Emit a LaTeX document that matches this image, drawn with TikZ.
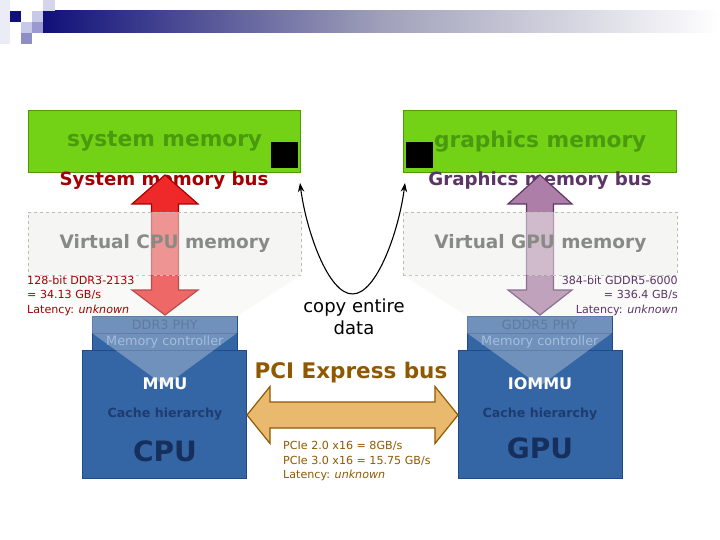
\documentclass[tikz,border=0pt]{standalone}
\usepackage{fontspec}
\setmainfont{DejaVu Sans}
\usetikzlibrary{arrows.meta}
\definecolor{grn}{HTML}{73D216}
\definecolor{grnd}{HTML}{4E9A06}
\definecolor{grnt}{HTML}{4A9A0E}
\definecolor{redf}{HTML}{EF2929}
\definecolor{redd}{HTML}{A40000}
\definecolor{plf}{HTML}{AD7FA8}
\definecolor{pld}{HTML}{5C3566}
\definecolor{blf}{HTML}{3465A4}
\definecolor{bld}{HTML}{204A87}
\definecolor{bltxt}{HTML}{1E3C70}
\definecolor{bltxtd}{HTML}{162F5C}
\definecolor{blphy}{HTML}{1C4280}
\definecolor{blmc}{HTML}{84A6D6}
\definecolor{chf}{HTML}{E9B96E}
\definecolor{chd}{HTML}{8F5902}
\definecolor{alu}{HTML}{888A85}
\definecolor{alul}{HTML}{BABDB6}
\definecolor{alull}{HTML}{EEEEEC}
\definecolor{hnavy}{HTML}{10107A}
\definecolor{hl1}{HTML}{D4D4EC}
\definecolor{hl2}{HTML}{C8C8E8}
\definecolor{hm1}{HTML}{9A9AD0}
\definecolor{hm2}{HTML}{8E8EC6}
\definecolor{hf}{HTML}{ECECF6}
\definecolor{hmid}{HTML}{A0A0BA}
\tikzset{
  membox/.style={draw=grnd, fill=grn, line width=1.4pt, anchor=north west, inner sep=0pt,
    text=grnt, font=\fontsize{21.7}{24}\selectfont\bfseries},
  blk/.style={fill=black, anchor=north west, inner sep=0pt},
  buslbl/.style={font=\fontsize{18.2}{20}\selectfont\bfseries, inner sep=0pt},
  virtbox/.style={draw=alul, dashed, line width=0.8pt, fill=alull, fill opacity=0.55, text opacity=1,
    anchor=north west, inner sep=0pt, text=alu, font=\fontsize{18.5}{21}\selectfont\bfseries},
  funnel/.style={fill=alull, fill opacity=0.32},
  chip/.style={draw=bld, fill=blf, line width=0.8pt, anchor=north west, inner sep=0pt},
  phyrow/.style={draw=bld, fill=blf, line width=0.6pt, anchor=north west, inner sep=0pt,
    font=\fontsize{12.8}{15}\selectfont},
  small/.style={font=\fontsize{11.1}{14.2}\selectfont, inner sep=0pt},
  arrowred/.style={fill=redf, draw=redd, line width=1.2pt, line join=miter},
  arrowpl/.style={fill=plf, draw=pld, line width=1.2pt, line join=miter},
  arrowch/.style={fill=chf, draw=chd, line width=1.2pt, line join=miter},
  copytip/.style={-{Stealth[length=9pt,width=6.5pt]}},
}
\begin{document}
\begin{tikzpicture}[x=1pt,y=-1pt]
\useasboundingbox (0,0) rectangle (720,540);
\fill[white] (0,0) rectangle (720,540);
% header
\fill[hf] (0,0) rectangle (10,44);
\shade[left color=hnavy, right color=white, middle color=hmid] (43,11) rectangle (720,33);
\fill[hl1] (43,0) rectangle (55,11);
\fill[hnavy] (10,11) rectangle (21,22);
\fill[hl2] (32,11) rectangle (43,22);
\fill[hl2] (21,22) rectangle (32,33);
\fill[hm1] (32,22) rectangle (43,33);
\fill[hm2] (21,33) rectangle (32,44);

% memory boxes
\node[membox, minimum width=272pt, minimum height=62pt] (sysmem) at (28,110) {system memory};
\node[membox, minimum width=273pt, minimum height=62pt] (gfxmem) at (403,110) {graphics memory};
\node[blk, minimum width=27pt, minimum height=26pt] (blk1) at (271,142) {};
\node[blk, minimum width=27pt, minimum height=26pt] (blk2) at (406,142) {};

% chips
\node[chip, minimum width=164pt, minimum height=128pt] (cpu) at (82,350) {};
\node[chip, minimum width=164pt, minimum height=128pt] (gpu) at (458,350) {};
\node[phyrow, minimum width=145pt, minimum height=17pt, text=blphy] (phy1) at (92,316) {DDR3 PHY};
\node[phyrow, minimum width=145pt, minimum height=17pt, text=blmc] (mc1) at (92,333) {Memory controller};
\node[phyrow, minimum width=145pt, minimum height=17pt, text=blphy] (phy2) at (467,316) {GDDR5 PHY};
\node[phyrow, minimum width=145pt, minimum height=17pt, text=blmc] (mc2) at (467,333) {Memory controller};

\node[text=white, font=\fontsize{16}{18}\selectfont\bfseries] (mmu) at (165,384) {MMU};
\node[text=bltxt, font=\fontsize{12.6}{15}\selectfont\bfseries] (ch1) at (165,414) {Cache hierarchy};
\node[text=bltxtd, font=\fontsize{28}{32}\selectfont\bfseries] (cpul) at (165,451) {CPU};
\node[text=white, font=\fontsize{16}{18}\selectfont\bfseries] (iommu) at (540,384) {IOMMU};
\node[text=bltxt, font=\fontsize{12.6}{15}\selectfont\bfseries] (ch2) at (540,414) {Cache hierarchy};
\node[text=bltxtd, font=\fontsize{28}{32}\selectfont\bfseries] (gpul) at (540,448) {GPU};

% bus labels (under the arrows)
\node[buslbl, text=redd] (sbus) at (164,181) {System memory bus};
\node[buslbl, text=pld] (gbus) at (540,181) {Graphics memory bus};

% vertical bus arrows
\path[arrowred] (165,175) -- (198,204) -- (178.5,204) -- (178.5,290) -- (198,290) -- (165,315)
  -- (132,290) -- (151.5,290) -- (151.5,204) -- (132,204) -- cycle;
\path[arrowpl] (540,175) -- (572,204) -- (553.5,204) -- (553.5,290) -- (572,290) -- (540,315)
  -- (508,290) -- (526.5,290) -- (526.5,204) -- (508,204) -- cycle;

% virtual memory boxes and funnels
\node[virtbox, minimum width=273pt, minimum height=63pt] (vcpu) at (28,212) {Virtual CPU memory};
\node[virtbox, minimum width=274pt, minimum height=63pt] (vgpu) at (403,212) {Virtual GPU memory};
\path[funnel] (28,275.4) -- (301,275.4) -- (237,316) -- (237,333) -- (165,386) -- (92,333) -- (92,316) -- cycle;
\path[funnel] (403,275.4) -- (677,275.4) -- (612,316) -- (612,333) -- (540,386) -- (467,333) -- (467,316) -- cycle;

% DRAM specs
\node[small, text=redd, align=left, anchor=north west] (spec1) at (27,276)
  {128-bit DDR3-2133\\= 34.13 GB/s\\Latency: \textit{unknown}};
\node[small, text=pld, align=right, anchor=north east] (spec2) at (678,276)
  {384-bit GDDR5-6000\\= 336.4 GB/s\\Latency: \textit{unknown}};

% copy curve
\coordinate (cl) at (300,183);
\coordinate (cr) at (405,183);
\draw[line width=1.1pt, copytip] (352.5,294) .. controls (328,294) and (306,230) .. (cl);
\draw[line width=1.1pt, copytip] (352.5,294) .. controls (377,294) and (399,230) .. (cr);
\node[font=\fontsize{18}{22}\selectfont, align=center, inner sep=0pt] (copy) at (354,317) {copy entire\\data};

% PCIe
\node[font=\fontsize{21.5}{24}\selectfont\bfseries, text=chd, inner sep=0pt] (pcil) at (351,373) {PCI Express bus};
\path[arrowch] (247,415) -- (270,386.5) -- (270,402) -- (435,402) -- (435,386.5) -- (458,415)
  -- (435,443.5) -- (435,428) -- (270,428) -- (270,443.5) -- cycle;
\node[small, text=chd, align=left, anchor=north west] (pcis) at (283,441.5)
  {PCIe 2.0 x16 = 8GB/s\\PCIe 3.0 x16 = 15.75 GB/s\\Latency: \textit{unknown}};
\end{tikzpicture}
\end{document}
